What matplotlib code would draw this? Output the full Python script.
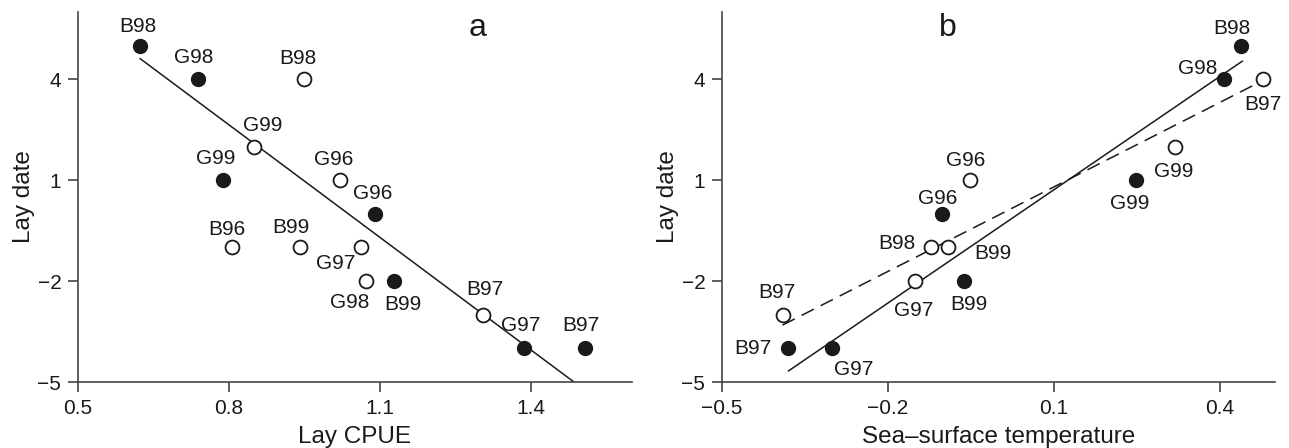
import matplotlib
matplotlib.use("Agg")
import matplotlib.pyplot as plt
import numpy

plt.rcParams["font.family"] = ["Liberation Sans", "DejaVu Sans"]

# panel a: lay CPUE vs lay date
cpue_filled_x = [0.624, 0.739, 0.787, 1.09, 1.128, 1.385, 1.506]
cpue_filled_y = [5, 4, 1, 0, -2, -4, -4]
cpue_filled_lab = ["B98", "G98", "G99", "G96", "B99", "G97", "B97"]
cpue_open_x = [0.948, 0.849, 0.805, 0.941, 1.02, 1.061, 1.071, 1.305]
cpue_open_y = [4, 2, -1, -1, 1, -1, -2, -3]
cpue_open_lab = ["B98", "G99", "B96", "B99", "G96", "G97", "G98", "B97"]
cpue_fit = (-11.16, 11.57)
cpue_fit_range = (0.6235, 1.485)

# panel b: sea-surface temperature vs lay date
sst_filled_x = [-0.380, -0.301, -0.1016, -0.0624, 0.249, 0.4077, 0.439]
sst_filled_y = [-4, -4, 0, -2, 1, 4, 5]
sst_filled_lab = ["B97", "G97", "G96", "B99", "G99", "G98", "B98"]
sst_open_x = [-0.3905, -0.1514, -0.122, -0.0913, -0.0516, 0.3187, 0.478]
sst_open_y = [-3, -2, -1, -1, 1, 2, 4]
sst_open_lab = ["B97", "G97", "B98", "B99", "G96", "G99", "B97"]
sst_fit_solid = (11.22, -0.41)
sst_fit_solid_range = (-0.3797, 0.441)
sst_fit_dashed = (8.37, -0.04)
sst_fit_dashed_range = (-0.3905, 0.473)

# label offsets in pixels (dx right, dy down)
cpue_filled_off = [(-3, -19), (-5, -22), (-7, -22), (-2, -20), (9, 23), (-3, -23), (-4, -23)]
cpue_open_off = [(-6, -21), (9, -21), (-5, -18), (-9, -20), (-6, -21), (-25, 16), (-16, 21), (1, -25)]
sst_filled_off = [(-35, 0), (22, 21), (-5, -15), (5, 23), (-6, 23), (-26, -11), (-9, -17)]
sst_open_off = [(-6, -22), (-1, 29), (-34, -4), (45, 6), (-4, -20), (-1, 25), (0, 25)]

INK = "#1a1a1a"
FS = 15


def style_axes(ax, xlim, xticks, xlabel, letter, letter_x):
    ax.set_xlim(*xlim)
    ax.set_ylim(-5, 6)
    ax.set_xticks(xticks)
    ax.set_xticklabels([f"{t:.1f}".replace("-", "\u2212") for t in xticks])
    ax.set_yticks([-5, -2, 1, 4])
    ax.set_yticklabels(["\u22125", "\u22122", "1", "4"])
    for side in ("top", "right"):
        ax.spines[side].set_visible(False)
    for side in ("left", "bottom"):
        ax.spines[side].set_color("#444444")
        ax.spines[side].set_linewidth(1.2)
    ax.tick_params(direction="out", length=7, width=1.2, color="#444444",
                   labelsize=FS, labelcolor=INK, pad=5)
    ax.set_xlabel(xlabel, fontsize=17.5, color=INK, labelpad=6)
    ax.set_ylabel("Lay date", fontsize=17.5, color=INK, labelpad=1.5)
    ax.text(letter_x, 0.958, letter, transform=ax.transAxes, fontsize=23,
            color=INK, ha="center", va="center")


def draw_points(ax, xs, ys, labels, offsets, filled):
    if filled:
        ax.plot(xs, ys, "o", ms=10, color=INK, mec=INK, zorder=3)
    else:
        ax.plot(xs, ys, "o", ms=10, mfc="white", mec=INK, mew=1.3, zorder=3)
    for x, y, lab, (dx, dy) in zip(xs, ys, labels, offsets):
        ax.annotate(lab, (x, y), xytext=(dx, -dy), textcoords="offset pixels",
                    ha="center", va="center", fontsize=FS, color=INK)


def draw_fit(ax, coef, xr, dashed=False):
    xx = numpy.array(xr)
    line, = ax.plot(xx, coef[0] * xx + coef[1], "-", color=INK, lw=1.1, zorder=2)
    if dashed:
        line.set_dashes((9, 5))


fig = plt.figure(figsize=(12.89, 4.48), dpi=100)
ax1 = fig.add_axes([0.0605, 0.1473, 0.4298, 0.826])
ax2 = fig.add_axes([0.5601, 0.1473, 0.429, 0.826])

draw_fit(ax1, cpue_fit, cpue_fit_range)
draw_points(ax1, cpue_filled_x, cpue_filled_y, cpue_filled_lab, cpue_filled_off, True)
draw_points(ax1, cpue_open_x, cpue_open_y, cpue_open_lab, cpue_open_off, False)
style_axes(ax1, (0.5, 1.6), [0.5, 0.8, 1.1, 1.4], "Lay CPUE", "a", 0.722)

draw_fit(ax2, sst_fit_solid, sst_fit_solid_range)
draw_fit(ax2, sst_fit_dashed, sst_fit_dashed_range, dashed=True)
draw_points(ax2, sst_filled_x, sst_filled_y, sst_filled_lab, sst_filled_off, True)
draw_points(ax2, sst_open_x, sst_open_y, sst_open_lab, sst_open_off, False)
style_axes(ax2, (-0.5, 0.5), [-0.5, -0.2, 0.1, 0.4], "Sea\u2013surface temperature", "b", 0.409)

fig.savefig("out.png", dpi=100)
